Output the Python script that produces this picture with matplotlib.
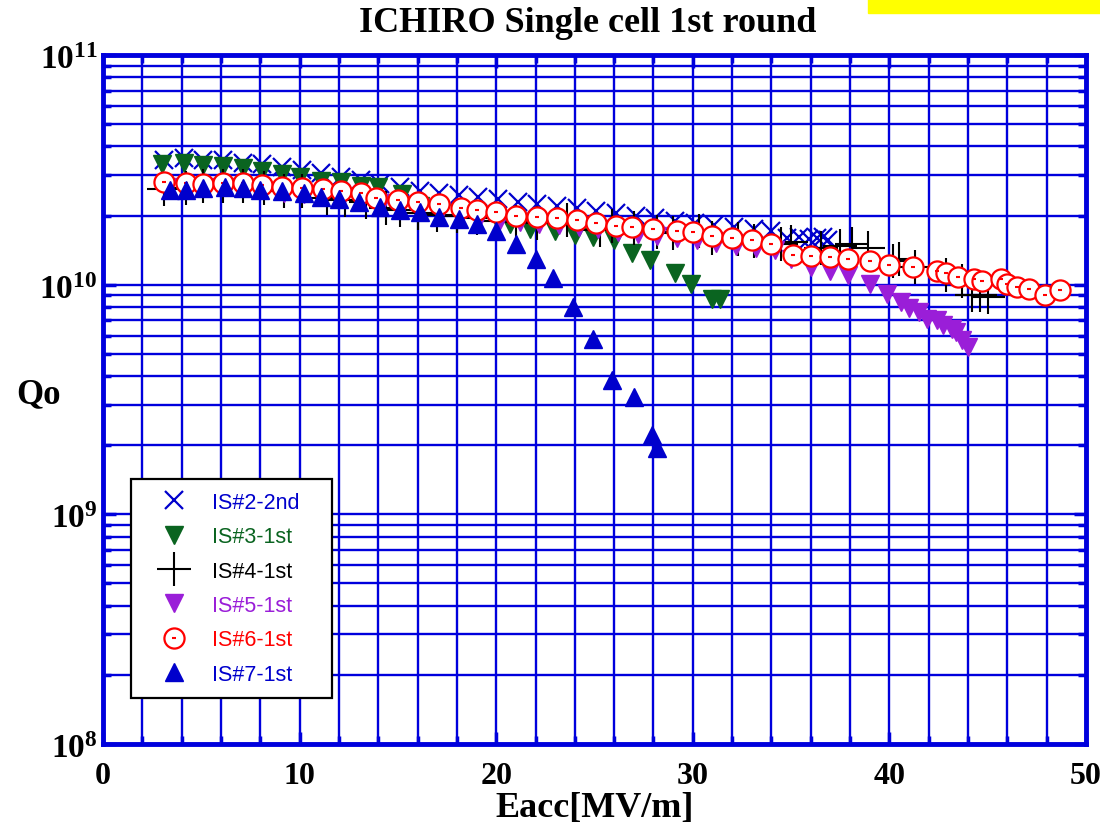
import numpy as np
import matplotlib
matplotlib.use('Agg')
import matplotlib.pyplot as plt
from matplotlib.ticker import MultipleLocator, LogLocator, FuncFormatter, NullFormatter
from matplotlib.patches import Rectangle
from matplotlib.lines import Line2D
from matplotlib.legend_handler import HandlerTuple

# ---------------- data ----------------
is2_e = [3.1, 4.1, 5.1, 6.1, 7.1, 8.1, 9.1, 10.1, 11.1, 12.1, 13.1, 14.1, 15.1, 16.1, 17.1,
         18.1, 19.1, 20.1, 21.1, 22.1, 23.1, 24.1, 25.1, 26.1, 27.1, 28.1, 29.1, 30.1, 31.1,
         32.1, 33.1, 34.0, 34.8, 35.4, 35.9, 36.3, 36.6, 36.9]
is2_q = [3.5e10, 3.55e10, 3.5e10, 3.5e10, 3.4e10, 3.35e10, 3.25e10, 3.15e10, 3.05e10, 2.95e10,
         2.85e10, 2.75e10, 2.65e10, 2.55e10, 2.5e10, 2.45e10, 2.4e10, 2.35e10, 2.3e10, 2.25e10,
         2.2e10, 2.15e10, 2.1e10, 2.05e10, 2.0e10, 1.95e10, 1.9e10, 1.85e10, 1.82e10, 1.78e10,
         1.75e10, 1.72e10, 1.6e10, 1.62e10, 1.58e10, 1.6e10, 1.62e10, 1.57e10]

is3_e = [3.0, 4.1, 5.1, 6.1, 7.1, 8.1, 9.1, 10.0, 11.1, 12.1, 13.1, 14.0, 15.2, 16.1, 17.1,
         18.1, 19.1, 20.1, 20.7, 21.7, 23.0, 24.0, 24.9, 26.0, 26.9, 27.8, 29.1, 29.9, 31.0, 31.4]
is3_q = [3.36e10, 3.39e10, 3.32e10, 3.28e10, 3.23e10, 3.12e10, 3.04e10, 2.94e10, 2.84e10, 2.80e10,
         2.68e10, 2.66e10, 2.49e10, 2.2e10, 2.12e10, 2.05e10, 1.98e10, 1.9e10, 1.84e10, 1.75e10,
         1.72e10, 1.64e10, 1.61e10, 1.56e10, 1.38e10, 1.28e10, 1.12e10, 1.01e10, 0.869e10, 0.869e10]

is4_e = [3.1, 4.2, 5.1, 6.1, 7.1, 8.2, 9.2, 10.1, 11.4, 12.3, 13.4, 14.4, 15.1, 16.0, 17.0, 18.0,
         19.0, 20.0, 21.0, 22.1, 23.6, 25.3, 25.9, 27.0, 28.2, 29.0, 30.3, 31.0, 32.3, 33.1, 34.5,
         35.0, 36.5, 37.5, 38.1, 38.9, 40.2, 40.5, 41.3, 42.9, 43.7, 44.2, 44.6, 45.0]
is4_q = [2.60e10, 2.64e10, 2.70e10, 2.70e10, 2.70e10, 2.64e10, 2.57e10, 2.57e10, 2.39e10, 2.34e10,
         2.28e10, 2.16e10, 2.12e10, 2.06e10, 2.02e10, 1.99e10, 1.95e10, 1.90e10, 1.88e10, 1.86e10,
         1.92e10, 1.73e10, 1.80e10, 1.76e10, 1.70e10, 1.68e10, 1.72e10, 1.60e10, 1.58e10, 1.55e10,
         1.50e10, 1.54e10, 1.45e10, 1.48e10, 1.51e10, 1.45e10, 1.27e10, 1.30e10, 1.20e10, 1.10e10,
         1.04e10, 0.90e10, 0.90e10, 0.88e10]

is5_e = [4.0, 5.0, 6.0, 7.0, 8.0, 9.2, 10.2, 11.2, 12.2, 13.2, 14.2, 15.2, 16.2, 17.2, 18.2, 19.2,
         20.2, 21.2, 22.2, 23.2, 24.2, 25.2, 26.2, 27.2, 28.2, 29.2, 30.2, 31.2, 32.2, 33.2, 34.2,
         35.0, 36.0, 37.0, 37.9, 39.0, 39.9, 40.6, 41.0, 41.5, 41.9, 42.4, 42.7, 43.2, 43.4, 43.7, 44.0]
is5_q = [2.65e10, 2.65e10, 2.66e10, 2.65e10, 2.6e10, 2.52e10, 2.48e10, 2.45e10, 2.40e10, 2.34e10,
         2.27e10, 2.22e10, 2.15e10, 2.10e10, 2.02e10, 1.98e10, 1.92e10, 1.88e10, 1.84e10, 1.82e10,
         1.78e10, 1.74e10, 1.70e10, 1.66e10, 1.63e10, 1.60e10, 1.56e10, 1.52e10, 1.48e10, 1.44e10,
         1.41e10, 1.30e10, 1.19e10, 1.15e10, 1.10e10, 1.01e10, 0.914e10, 0.841e10, 0.79e10, 0.76e10,
         0.71e10, 0.70e10, 0.665e10, 0.644e10, 0.62e10, 0.573e10, 0.536e10]

is6_e = [3.1, 4.2, 5.1, 6.1, 7.1, 8.1, 9.1, 10.1, 11.2, 12.1, 13.1, 13.9, 15.0, 16.0, 17.1, 18.2,
         19.0, 20.0, 21.0, 22.1, 23.1, 24.1, 25.1, 26.1, 26.9, 28.0, 29.2, 30.0, 31.0, 32.0, 33.0,
         34.0, 35.1, 36.0, 37.0, 37.9, 39.0, 40.0, 41.2, 42.4, 42.9, 43.5, 44.3, 44.7, 45.7, 46.0,
         46.5, 47.1, 47.9, 48.7]
is6_q = [2.79e10, 2.77e10, 2.75e10, 2.77e10, 2.77e10, 2.72e10, 2.66e10, 2.63e10, 2.61e10, 2.55e10,
         2.51e10, 2.38e10, 2.34e10, 2.29e10, 2.25e10, 2.15e10, 2.12e10, 2.07e10, 2.00e10, 1.97e10,
         1.95e10, 1.91e10, 1.86e10, 1.81e10, 1.78e10, 1.75e10, 1.72e10, 1.69e10, 1.63e10, 1.60e10,
         1.56e10, 1.51e10, 1.35e10, 1.33e10, 1.32e10, 1.29e10, 1.27e10, 1.22e10, 1.20e10, 1.15e10,
         1.12e10, 1.08e10, 1.06e10, 1.04e10, 1.06e10, 1.01e10, 0.977e10, 0.955e10, 0.898e10, 0.951e10]

is7_e = [3.4, 4.2, 5.1, 6.2, 7.1, 8.0, 9.1, 10.2, 11.1, 12.0, 13.0, 14.1, 15.1, 16.1, 17.1, 18.1,
         19.0, 20.0, 21.0, 22.0, 22.9, 23.9, 24.9, 25.9, 27.0, 27.9, 28.2]
is7_q = [2.59e10, 2.59e10, 2.63e10, 2.66e10, 2.63e10, 2.59e10, 2.55e10, 2.51e10, 2.41e10, 2.37e10,
         2.29e10, 2.18e10, 2.12e10, 2.08e10, 1.97e10, 1.94e10, 1.84e10, 1.72e10, 1.51e10, 1.30e10,
         1.07e10, 0.800e10, 0.582e10, 0.384e10, 0.325e10, 0.221e10, 0.194e10]

labels = ['IS#2-2nd', 'IS#3-1st', 'IS#4-1st', 'IS#5-1st', 'IS#6-1st', 'IS#7-1st']
colors = ['#0000cc', '#0a6420', '#000000', '#9a1ed8', '#ff0000', '#0000cc']

# ---------------- figure ----------------
plt.rcParams['mathtext.fontset'] = 'custom'
plt.rcParams['mathtext.rm'] = 'Liberation Serif:bold'
plt.rcParams['mathtext.bf'] = 'Liberation Serif:bold'

BLUE = '#0000dd'
fig = plt.figure(figsize=(11, 8.29), dpi=100)
ax = fig.add_axes([0.0936, 0.1013, 0.8937, 0.8311])
ax.set_yscale('log')
ax.set_xlim(0, 50)
ax.set_ylim(1e8, 1e11)

l2, = ax.plot(is2_e, is2_q, ls='none', marker='x', ms=13, mew=1.6, color=colors[0])
l3, = ax.plot(is3_e, is3_q, ls='none', marker='v', ms=13, color=colors[1], mec=colors[1])
l4, = ax.plot(is4_e, is4_q, ls='none', marker='+', ms=24, mew=1.5, color=colors[2])
l5, = ax.plot(is5_e, is5_q, ls='none', marker='v', ms=13, color=colors[3], mec=colors[3])
l6, = ax.plot(is6_e, is6_q, ls='none', marker='o', ms=14.5, mfc='white', mec=colors[4], mew=1.6)
l6d, = ax.plot(is6_e, is6_q, ls='none', marker='_', ms=3.5, mew=1.5, color=colors[4])
l7, = ax.plot(is7_e, is7_q, ls='none', marker='^', ms=13, color=colors[5], mec=colors[5])

# axes styling
ax.xaxis.set_major_locator(MultipleLocator(10))
ax.xaxis.set_minor_locator(MultipleLocator(2))
ax.yaxis.set_major_locator(LogLocator(base=10, numticks=10))
ax.yaxis.set_minor_locator(LogLocator(base=10, subs=np.arange(2, 10), numticks=30))
ax.yaxis.set_minor_formatter(NullFormatter())
ax.yaxis.set_major_formatter(FuncFormatter(lambda v, p: r'$\mathbf{10^{%d}}$' % round(np.log10(v))))
ax.grid(which='both', color=BLUE, lw=1.7)
ax.set_axisbelow(True)
for s in ax.spines.values():
    s.set_color(BLUE)
    s.set_linewidth(3.5)
ax.tick_params(which='both', direction='in', top=True, right=True, color=BLUE, width=2.5)
ax.tick_params(which='major', length=9)
ax.tick_params(which='minor', length=6)
ax.tick_params(axis='x', which='major', pad=12)
ax.tick_params(axis='y', which='major', pad=4)
for t in ax.get_xticklabels():
    t.set_fontfamily('Liberation Serif')
    t.set_fontweight('bold')
    t.set_fontsize(23)
for t in ax.get_yticklabels():
    t.set_fontsize(24)

ax.set_xlabel('Eacc[MV/m]', fontsize=26, fontweight='bold', family='Liberation Serif', labelpad=1)
fig.text(38 / 1100, 1 - 395 / 829, 'Qo', fontsize=25, fontweight='bold', family='Liberation Serif',
         ha='center', va='center')
fig.text(588 / 1100, 1 - 24 / 829, 'ICHIRO Single cell 1st round', fontsize=26, fontweight='bold',
         family='Liberation Serif', ha='center', va='center')

fig.patches.append(Rectangle((868 / 1100, 1 - 14 / 829), 232 / 1100, 14 / 829,
                             transform=fig.transFigure, color='yellow', zorder=5))

# legend
h6 = (Line2D([], [], ls='none', marker='o', ms=14.5, mfc='white', mec=colors[4], mew=1.6),
      Line2D([], [], ls='none', marker='_', ms=3.5, mew=1.5, color=colors[4]))
handles = [l2, l3, l4, l5, h6, l7]
# legend box in axes fraction: x 131..332 px, y 480..698 px
x0 = (131 - 103) / 983
w = (332 - 131) / 983
y0 = (745 - 698) / 689
h = (698 - 480) / 689
leg = ax.legend(handles, labels, loc='upper left', bbox_to_anchor=(x0, y0, w, h), mode='expand',
                handler_map={tuple: HandlerTuple(ndivide=1, pad=0)},
                prop={'family': 'Liberation Sans', 'size': 15.5}, fancybox=False, framealpha=1,
                edgecolor='black', borderpad=0.6, labelspacing=0.62, handlelength=2.8,
                handletextpad=0.35, borderaxespad=0)
leg.get_frame().set_linewidth(1.6)
for txt, c in zip(leg.get_texts(), colors):
    txt.set_color(c)

fig.savefig('out.png', dpi=100)
